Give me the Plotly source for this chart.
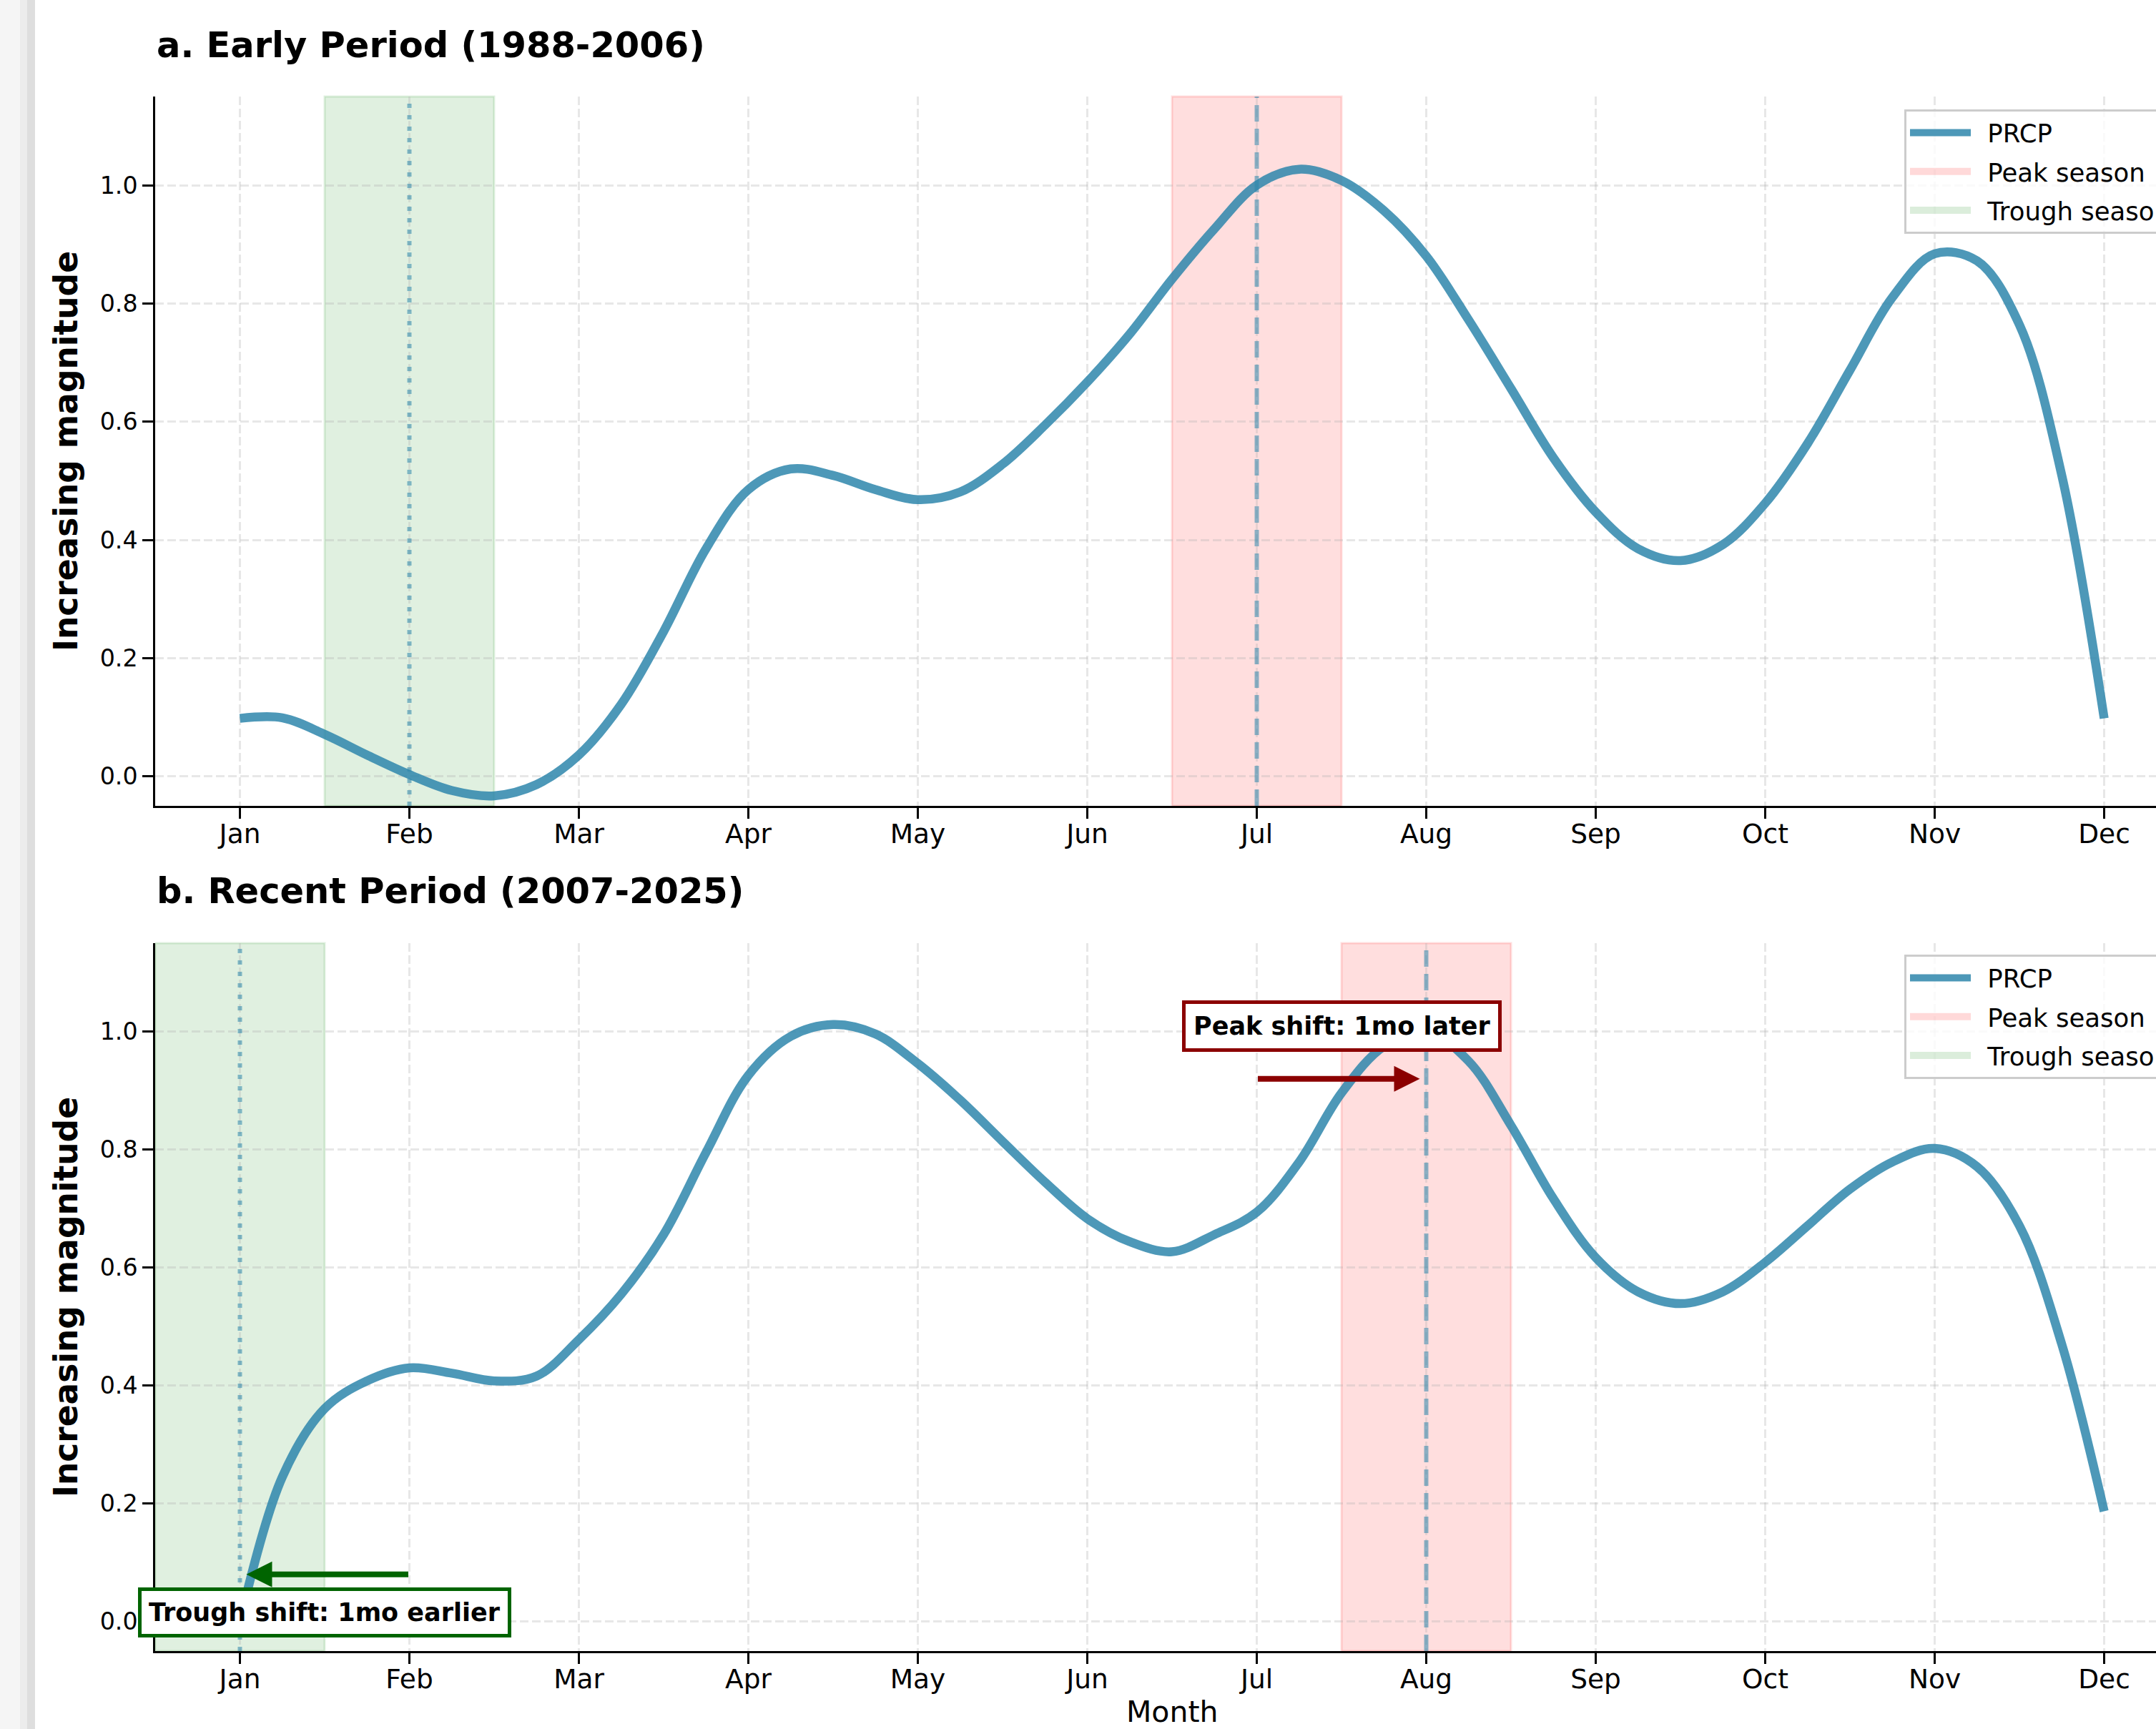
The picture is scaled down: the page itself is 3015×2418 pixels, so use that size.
import plotly.graph_objects as go

# ---------------- data ----------------
month_labels = ["Jan", "Feb", "Mar", "Apr", "May", "Jun",
                "Jul", "Aug", "Sep", "Oct", "Nov", "Dec"]
month_ticks = [1, 2, 3, 4, 5, 6, 7, 8, 9, 10, 11, 12]

x_read = [1.0, 1.25, 1.5, 1.75, 2.0, 2.25, 2.5, 2.75, 3.0, 3.25, 3.5, 3.75,
          4.0, 4.25, 4.5, 4.75, 5.0, 5.25, 5.5, 5.75, 6.0, 6.25, 6.5, 6.75,
          7.0, 7.25, 7.5, 7.75, 8.0, 8.25, 8.5, 8.75, 9.0, 9.25, 9.5, 9.75,
          10.0, 10.25, 10.5, 10.75, 11.0, 11.25, 11.5, 11.75, 12.0]

early_prcp = [0.098, 0.099, 0.071, 0.036, 0.003, -0.024, -0.033, -0.014,
              0.036, 0.122, 0.245, 0.385, 0.485, 0.520, 0.509, 0.485,
              0.468, 0.481, 0.528, 0.594, 0.667, 0.748, 0.841, 0.926,
              1.000, 1.027, 1.008, 0.957, 0.880, 0.772, 0.656, 0.539,
              0.447, 0.385, 0.365, 0.392, 0.462, 0.563, 0.687, 0.810,
              0.884, 0.872, 0.764, 0.509, 0.098]

recent_prcp = [0.000, 0.245, 0.361, 0.408, 0.430, 0.421, 0.408, 0.416,
               0.478, 0.555, 0.656, 0.795, 0.926, 0.992, 1.012, 0.996,
               0.946, 0.884, 0.814, 0.745, 0.683, 0.644, 0.627, 0.656,
               0.694, 0.779, 0.896, 0.975, 1.000, 0.950, 0.841, 0.717,
               0.617, 0.559, 0.539, 0.559, 0.609, 0.671, 0.733, 0.779,
               0.802, 0.771, 0.671, 0.470, 0.187]

panel_titles = ["a. Early Period (1988-2006)", "b. Recent Period (2007-2025)"]
peak_months = [7, 8]
trough_months = [2, 1]
series_name = "PRCP"
peak_name = "Peak season"
trough_name = "Trough season"
y_label = "Increasing magnitude"
x_label = "Month"
y_ticks = [0.0, 0.2, 0.4, 0.6, 0.8, 1.0]

peak_text = "Peak shift: 1mo later"
trough_text = "Trough shift: 1mo earlier"
peak_arrow_y = 0.92
trough_arrow_y = 0.08
peak_text_pos = (7.5, 1.01)
trough_text_pos = (1.5, 0.015)

# ---------------- style / layout ----------------
# The reference is a 3015 px wide crop of a slightly wider figure; the figure
# is drawn at its full width and the browser window shows the left 3015 px.
W, H = 3080, 2418
AX_L, AX_R = 217, 3061           # spine positions (px)
X_RANGE = [0.5, 12.5]
Y_RANGE = [-0.05, 1.15]
top_dom = [1 - 1127 / H, 1 - 135 / H]
bot_dom = [1 - 2309 / H, 1 - 1319 / H]

LINE_COLOR = "rgba(46,134,171,0.85)"
VLINE_COLOR = "rgba(46,134,171,0.55)"
PEAK_FILL = "rgba(255,0,0,0.13)"
TROUGH_FILL = "rgba(0,128,0,0.12)"
PEAK_ICON = "rgba(255,0,0,0.15)"
TROUGH_ICON = "rgba(0,128,0,0.14)"
GRID = "rgba(176,176,176,0.3)"
FONT = "DejaVu Sans"
GAP = "\u00a0\u2009"   # extra gap between legend symbol and label

fig = go.Figure()

series = [early_prcp, recent_prcp]
axes = [("x", "y"), ("x2", "y2")]
legends = ["legend", "legend2"]
for i in range(2):
    xa, ya = axes[i]
    fig.add_trace(go.Scatter(
        x=x_read, y=series[i], mode="lines", name=GAP + series_name,
        line=dict(color=LINE_COLOR, width=12.5, shape="spline", smoothing=1.0),
        xaxis=xa, yaxis=ya, legend=legends[i], legendgroup="a%d" % i,
        hoverinfo="skip"))
    # legend-only patch entries for the shaded seasons
    fig.add_trace(go.Scatter(
        x=[None], y=[None], mode="lines", name=GAP + peak_name,
        line=dict(color=PEAK_ICON, width=26),
        xaxis=xa, yaxis=ya, legend=legends[i], legendgroup="b%d" % i,
        hoverinfo="skip"))
    fig.add_trace(go.Scatter(
        x=[None], y=[None], mode="lines", name=GAP + trough_name,
        line=dict(color=TROUGH_ICON, width=26),
        xaxis=xa, yaxis=ya, legend=legends[i], legendgroup="c%d" % i,
        hoverinfo="skip"))

shapes = []
for i in range(2):
    xa, ya = axes[i]
    pm, tm = peak_months[i], trough_months[i]
    shapes.append(dict(type="rect", xref=xa, yref=ya + " domain",
                       x0=pm - 0.5, x1=pm + 0.5, y0=0, y1=1,
                       fillcolor=PEAK_FILL, line=dict(color=PEAK_FILL, width=3),
                       layer="below"))
    shapes.append(dict(type="rect", xref=xa, yref=ya + " domain",
                       x0=tm - 0.5, x1=tm + 0.5, y0=0, y1=1,
                       fillcolor=TROUGH_FILL, line=dict(color=TROUGH_FILL, width=3),
                       layer="below"))
    shapes.append(dict(type="line", xref=xa, yref=ya + " domain",
                       x0=pm, x1=pm, y0=0, y1=1,
                       line=dict(color=VLINE_COLOR, width=6, dash="23px,10px")))
    shapes.append(dict(type="line", xref=xa, yref=ya + " domain",
                       x0=tm, x1=tm, y0=0, y1=1,
                       line=dict(color=VLINE_COLOR, width=6, dash="6px,10px")))

# left window-edge strip of the screenshot
shapes.append(dict(type="rect", xref="paper", yref="paper", x0=0, x1=28 / W,
                   y0=0, y1=1, fillcolor="#f5f5f5", line=dict(width=0), layer="below"))
shapes.append(dict(type="rect", xref="paper", yref="paper", x0=28 / W, x1=38 / W,
                   y0=0, y1=1, fillcolor="#ececec", line=dict(width=0), layer="below"))
shapes.append(dict(type="rect", xref="paper", yref="paper", x0=38 / W, x1=49 / W,
                   y0=0, y1=1, fillcolor="#dedede", line=dict(width=0), layer="below"))

annotations = []
title_y = [1 - 63 / H, 1 - 1246 / H]
for i in range(2):
    annotations.append(dict(text="<b>%s</b>" % panel_titles[i], xref="paper", yref="paper",
                            x=AX_L / W, y=title_y[i], xanchor="left", yanchor="middle",
                            showarrow=False, font=dict(family=FONT, size=49.5, color="black")))
    dom = top_dom if i == 0 else bot_dom
    annotations.append(dict(text="<b>%s</b>" % y_label, xref="paper", yref="paper",
                            x=92 / W, y=(dom[0] + dom[1]) / 2, xanchor="center", yanchor="middle",
                            textangle=-90, showarrow=False,
                            font=dict(family=FONT, size=45.5, color="black")))

annotations.append(dict(text=x_label, xref="paper", yref="paper",
                        x=(AX_L + AX_R) / 2 / W, y=1 - 2394 / H, xanchor="center", yanchor="middle",
                        showarrow=False, font=dict(family=FONT, size=41, color="black")))

# arrows
annotations.append(dict(x=peak_months[1], y=peak_arrow_y, ax=peak_months[0], ay=peak_arrow_y,
                        xref="x2", yref="y2", axref="x2", ayref="y2", text="",
                        showarrow=True, arrowhead=2, arrowsize=0.9, arrowwidth=8,
                        arrowcolor="#8B0000", standoff=9))
annotations.append(dict(x=trough_months[1], y=trough_arrow_y, ax=trough_months[0], ay=trough_arrow_y,
                        xref="x2", yref="y2", axref="x2", ayref="y2", text="",
                        showarrow=True, arrowhead=2, arrowsize=0.9, arrowwidth=8,
                        arrowcolor="#006400", standoff=9))
# labels
annotations.append(dict(text="<b>%s</b>" % peak_text, x=peak_text_pos[0], y=peak_text_pos[1],
                        xref="x2", yref="y2", showarrow=False, xanchor="center", yanchor="middle",
                        bgcolor="white", bordercolor="#8B0000", borderwidth=5, borderpad=11,
                        font=dict(family=FONT, size=35, color="black")))
annotations.append(dict(text="<b>%s</b>" % trough_text, x=trough_text_pos[0], y=trough_text_pos[1],
                        xref="x2", yref="y2", showarrow=False, xanchor="center", yanchor="middle",
                        bgcolor="white", bordercolor="#006400", borderwidth=5, borderpad=10,
                        font=dict(family=FONT, size=35, color="black")))

def xaxis(dom_anchor):
    return dict(domain=[AX_L / W, AX_R / W], range=X_RANGE, anchor=dom_anchor,
                tickmode="array", tickvals=month_ticks, ticktext=month_labels,
                showline=True, linecolor="black", linewidth=3.3, mirror=False,
                ticks="outside", ticklen=14.6, tickwidth=3.3, tickcolor="black",
                ticklabelstandoff=-11,
                showgrid=True, gridcolor=GRID, gridwidth=3.3, griddash="12px,5px",
                zeroline=False, automargin=False,
                tickfont=dict(family=FONT, size=37.5, color="black"))

def yaxis(dom, anchor):
    return dict(domain=dom, range=Y_RANGE, anchor=anchor,
                tickmode="array", tickvals=y_ticks, ticktext=["%.1f" % v for v in y_ticks],
                showline=True, linecolor="black", linewidth=3.3, mirror=False,
                ticks="outside", ticklen=14.6, tickwidth=3.3, tickcolor="black",
                showgrid=True, gridcolor=GRID, gridwidth=3.3, griddash="12px,5px",
                zeroline=False, automargin=False,
                tickfont=dict(family=FONT, size=33.3, color="black"))

legend_style = dict(xanchor="left", yanchor="top", bgcolor="rgba(255,255,255,0.8)",
                    bordercolor="#cccccc", borderwidth=3, itemwidth=85,
                    font=dict(family=FONT, size=35.5, color="black"),
                    tracegroupgap=5, traceorder="grouped")

fig.update_layout(
    width=W, height=H, autosize=False,
    margin=dict(l=0, r=0, t=0, b=0),
    paper_bgcolor="white", plot_bgcolor="white",
    xaxis=xaxis("y"), yaxis=yaxis(top_dom, "x"),
    xaxis2=xaxis("y2"), yaxis2=yaxis(bot_dom, "x2"),
    legend=dict(x=2663 / W, y=1 - 153 / H, **legend_style),
    legend2=dict(x=2663 / W, y=1 - 1335 / H, **legend_style),
    shapes=shapes, annotations=annotations,
    showlegend=True,
)

fig.write_html("out.html",
               config={"displayModeBar": False},
               post_script="document.body.style.margin='0';"
                           "document.body.style.overflow='hidden';"
                           "document.documentElement.style.overflow='hidden';")
